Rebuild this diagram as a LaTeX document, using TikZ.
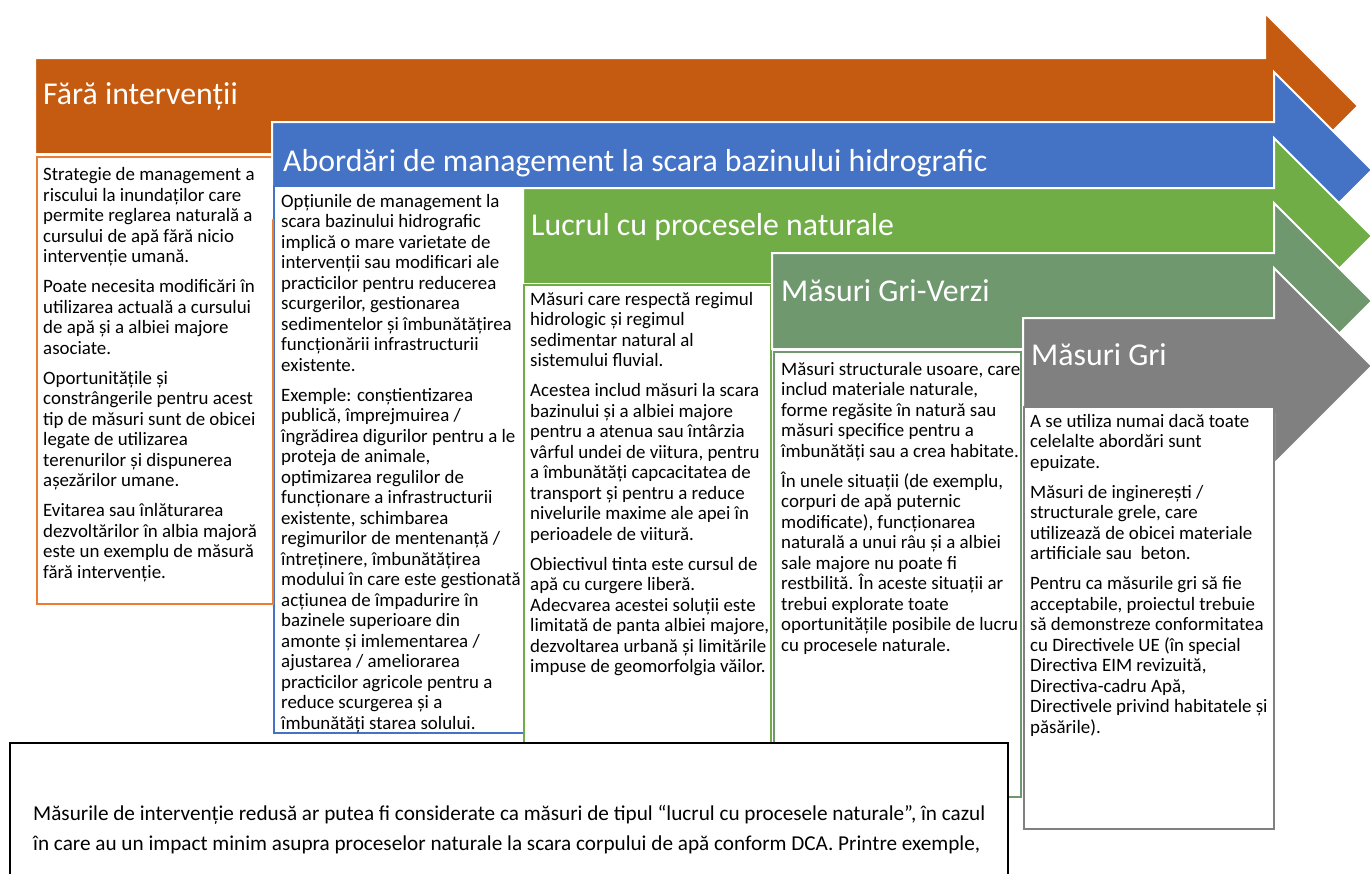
\documentclass[tikz,border=0pt]{standalone}
\usepackage{fontspec}
\setmainfont{Carlito}
\usetikzlibrary{positioning}

\definecolor{fara}{HTML}{C55A11}
\definecolor{faraline}{HTML}{ED7D31}
\definecolor{bazin}{HTML}{4472C4}
\definecolor{natural}{HTML}{70AD47}
\definecolor{griverde}{RGB}{112,152,110}
\definecolor{gri}{HTML}{808080}

\newcommand\bodyfont{\fontsize{18.9}{20.5}\selectfont}
\newcommand\titlefont{\fontsize{31.8}{36}\selectfont}
\newcommand\notafont{\fontsize{21.2}{30}\selectfont}

\begin{document}
\begin{tikzpicture}[x=1pt,y=-1pt]
	\tikzstyle{Arrow}	= [draw=white, line width=2pt, line join=miter]
	\tikzstyle{Box}		= [fill=white, line width=1.6pt]
	\tikzstyle{Title}	= [anchor=base west, inner sep=0pt, text=white, font=\titlefont]
	\tikzstyle{Body}	= [anchor=north west, inner sep=0pt, align=left, font=\bodyfont]

	\useasboundingbox (0,0) rectangle (1370,873);
	\fill[white] (0,0) rectangle (1370,873);

	% arrows and their boxes, back to front
	\foreach \c/\l/\t/\e/\h/\bl/\bt/\br/\bb/\bc in {
			fara/35/58/1265/93/37/157/273/604/faraline,
			bazin/272/122/1274/98/274/186/525/733/bazin,
			natural/523/188/1274/98/524/285/771/760/natural,
			griverde/772/253/1274/98/774/352/1021/797/griverde,
			gri/1023/318/1274/98/1024/407/1274/829/gri}
	{
		\draw[Arrow, fill=\c] (\l,\t) -- (\e,\t) -- (\e,\t+48-\h) -- (\e+\h,\t+48)
			-- (\e,\t+48+\h) -- (\e,\t+96) -- (\l,\t+96) -- cycle;
		\draw[Box, draw=\bc] (\bl,\bt) rectangle (\br,\bb);
	}
	% orange edge stays on top of the blue box
	\draw[faraline, line width=1.6pt] (273.5,219) -- (273.5,604.8);

	\node[Title] (tfara) at (43,104) {Fără intervenții};
	\node[Title] (tbazin) at (283,171) {Abordări de management la scara bazinului hidrografic};
	\node[Title] (tnatural) at (531,235) {Lucrul cu procesele naturale};
	\node[Title] (tgriverde) at (781,301) {Măsuri Gri-Verzi};
	\node[Title] (tgri) at (1031,365) {Măsuri Gri};

	% first baselines sit 13.5 below the node tops
	\node[Body] (bfara) at (43,167.5) {Strategie de management a\\riscului la inundaților care\\permite reglarea naturală a\\cursului de apă fără nicio\\intervenție umană.\\[9.5pt]
		Poate necesita modificări în\\utilizarea actuală a cursului\\de apă și a albiei majore\\asociate.\\[9.5pt]
		Oportunitățile și\\constrângerile pentru acest\\tip de măsuri sunt de obicei\\legate de utilizarea\\terenurilor și dispunerea\\așezărilor umane.\\[9.5pt]
		Evitarea sau înlăturarea\\dezvoltărilor în albia majoră\\este un exemplu de măsură\\fără intervenție.};

	\node[Body] (bbazin) at (281,194) {Opțiunile de management la\\scara bazinului hidrografic\\implică o mare varietate de\\intervenții sau modificari ale\\practicilor pentru reducerea\\scurgerilor, gestionarea\\sedimentelor și îmbunătățirea\\funcționării infrastructurii\\existente.\\[9.5pt]
		Exemple: conștientizarea\\publică, împrejmuirea /\\îngrădirea digurilor pentru a le\\proteja de animale,\\optimizarea regulilor de\\funcționare a infrastructurii\\existente, schimbarea\\regimurilor de mentenanță /\\întreținere, îmbunătățirea\\modului în care este gestionată\\acțiunea de împadurire în\\bazinele superioare din\\amonte și imlementarea /\\ajustarea / ameliorarea\\practicilor agricole pentru a\\reduce scurgerea și a\\îmbunătăți starea solului.};

	\node[Body] (bnatural) at (530,292) {Măsuri care respectă regimul\\hidrologic și regimul\\sedimentar natural al\\sistemului fluvial.\\[9.5pt]
		Acestea includ măsuri la scara\\bazinului și a albiei majore\\pentru a atenua sau întârzia\\vârful undei de viitura, pentru\\a îmbunătăți capcacitatea de\\transport și pentru a reduce\\nivelurile maxime ale apei în\\perioadele de viitură.\\[9.5pt]
		Obiectivul tinta este cursul de\\apă cu curgere liberă.\\Adecvarea acestei soluții este\\limitată de panta albiei majore,\\dezvoltarea urbană și limitările\\impuse de geomorfolgia văilor.};

	\node[Body] (bgriverde) at (781,362) {Măsuri structurale usoare, care\\includ materiale naturale,\\forme regăsite în natură sau\\măsuri specifice pentru a\\îmbunătăți sau a crea habitate.\\[9.5pt]
		În unele situații (de exemplu,\\corpuri de apă puternic\\modificate), funcționarea\\naturală a unui râu și a albiei\\sale majore nu poate fi\\restbilită. În aceste situații ar\\trebui explorate toate\\oportunitățile posibile de lucru\\cu procesele naturale.};

	\node[Body] (bgri) at (1030,414) {A se utiliza numai dacă toate\\celelalte abordări sunt\\epuizate.\\[9.5pt]
		Măsuri de inginerești /\\structurale grele, care\\utilizează de obicei materiale\\artificiale sau\ \ beton.\\[9.5pt]
		Pentru ca măsurile gri să fie\\acceptabile, proiectul trebuie\\să demonstreze conformitatea\\cu Directivele UE (în special\\Directiva EIM revizuită,\\Directiva-cadru Apă,\\Directivele privind habitatele și\\păsările).};

	% note box at the bottom
	\draw[Box, draw=black, line width=1.3pt] (10,743) rectangle (1008,890);
	\node[Body, font=\notafont] (nota) at (33,805) {Măsurile de intervenție redusă ar putea fi considerate ca măsuri de tipul “lucrul cu procesele naturale”, în cazul\\în care au un impact minim asupra proceselor naturale la scara corpului de apă conform DCA. Printre exemple,};
\end{tikzpicture}
\end{document}
